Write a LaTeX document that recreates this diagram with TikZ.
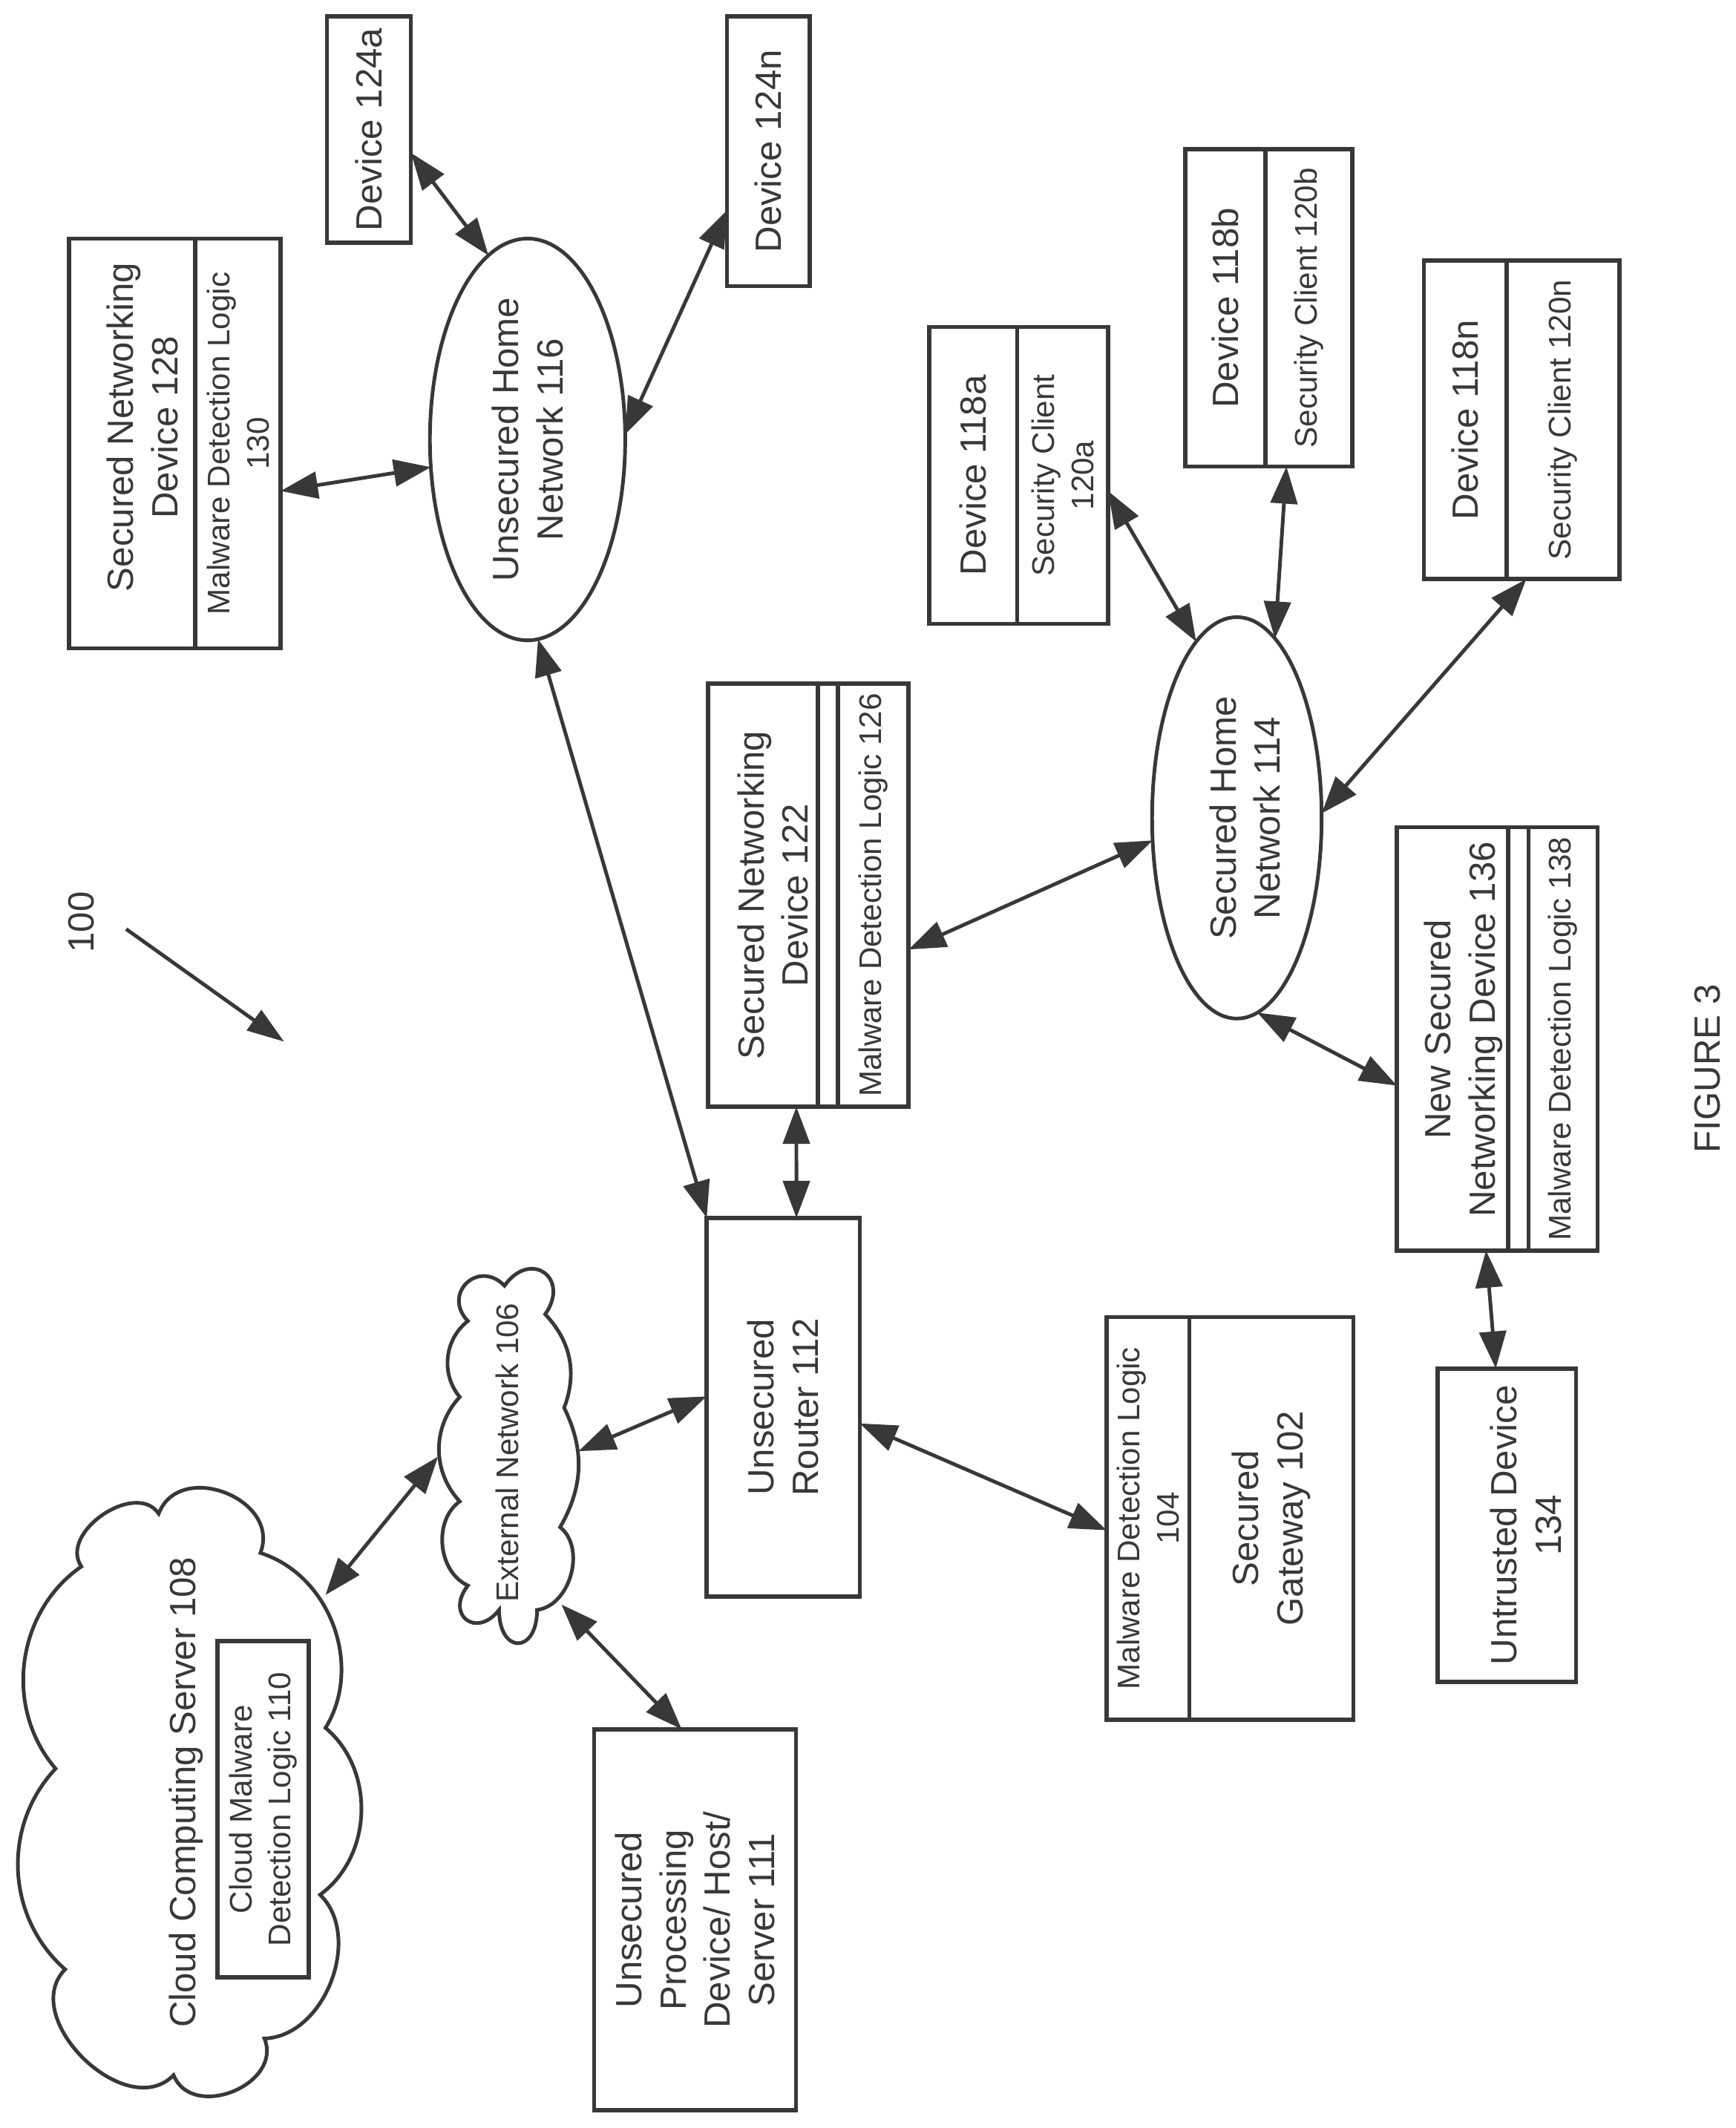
\documentclass[tikz,border=0pt]{standalone}
\usepackage{fontspec}
\setmainfont{Liberation Sans}
\usetikzlibrary{arrows.meta,shapes.geometric}
\definecolor{ink}{gray}{0.22}
\tikzset{
	big/.style={font=\fontsize{14}{17}\selectfont},
	small/.style={font=\fontsize{12}{15}\selectfont},
	sz/.style 2 args={minimum width=#1*0.018273cm,minimum height=#2*0.018273cm},
	box/.style={draw=ink,text=ink,line width=1.6pt,rectangle,rotate=90,align=center,inner sep=0pt,outer sep=0pt,big},
	net/.style={draw=ink,text=ink,line width=1.4pt,ellipse,rotate=90,align=center,inner sep=0pt,outer sep=0pt,big},
	lbl/.style={text=ink,rotate=90,align=center,inner sep=0pt},
	puffline/.style={draw=ink,line width=1.4pt},
	biarrow/.style={{Triangle[length=5mm,width=3.6mm]}-{Triangle[length=5mm,width=3.6mm]},draw=ink,line width=1.4pt},
	puff/.style 2 args={bend left=#1,looseness=#2},
}
\begin{document}
\begin{tikzpicture}[
		x={(0.018273cm,0cm)},
		y={(0cm,-0.018273cm)},
	]
	\useasboundingbox (0,0) rectangle (1280,1569);

	% clouds
	\draw[puffline] (117,1116) to[puff={90}{1.36}] (192,1145) to[puff={52}{1}] (240,1274) to[puff={52}{1}] (236,1397)
		to[puff={67}{1}] (195,1503) to[puff={90}{1.3}] (128,1530) to[puff={90}{1.15}] (48,1452) to[puff={46}{1}] (41,1304)
		to[puff={48}{1}] (60,1155) to[puff={90}{1.12}] cycle;
	\draw[puffline] (372,948) to[puff={90}{2.3}] (402,969) to[puff={32}{1}] (416,1038) to[puff={28}{1}] (413,1126)
		to[puff={67}{1}] (396,1187) to[puff={90}{3}] (368,1187) to[puff={90}{2.4}] (345,1169) to[puff={60}{1}] (339,1107)
		to[puff={43}{1}] (339,1030) to[puff={46}{1}] (345,974) to[puff={90}{1.9}] cycle;
	\coordinate (c108) at (240,1176);
	\coordinate (c106a) at (323,1074);
	\coordinate (c106b) at (426.5,1070);
	\coordinate (c106c) at (414,1183);
	\node[lbl,big] (t108) at (137,1321.5) {Cloud Computing Server 108};
	\node[lbl,small] (t106) at (374,1071) {External Network 106};
	\node[box,small,sz={248}{67}] (l110) at (194,1334) {Cloud Malware\\Detection Logic 110};

	% left side
	\node[box,sz={167}{62}] (d124a) at (272,95.5) {Device 124a};
	\node[box,sz={199}{61}] (d124n) at (566.5,111.5) {Device 124n};
	\node[box,sz={302}{93}] (s128) at (97.5,327) {};
	\node[lbl,big] (t128) at (105,315) {Secured Networking\\Device 128};
	\node[box,small,sz={302}{63}] (m130) at (175.5,327) {Malware Detection Logic\\130};
	\node[net,sz={296}{144}] (u116) at (389,324) {Unsecured Home\\Network 116};

	% secured home network
	\node[net,sz={296}{125}] (e114) at (912,603) {};
	\node[lbl,big] (t114) at (918,603) {Secured Home\\Network 114};
	\node[box,sz={219}{65}] (d118a) at (717.5,350.5) {Device 118a};
	\node[box,small,sz={219}{67}] (c120a) at (783.5,350.5) {Security Client\\120a};
	\node[box,sz={234}{59}] (d118b) at (903.5,227) {Device 118b};
	\node[box,small,sz={234}{64}] (c120b) at (965,227) {Security Client 120b};
	\node[box,sz={235}{61}] (d118n) at (1080.5,309.5) {Device 118n};
	\node[box,small,sz={235}{83}] (c120n) at (1152.5,309.5) {Security Client 120n};

	\node[box,sz={312}{81}] (s122) at (562.5,660) {};
	\node[lbl,big] (t122) at (570,660) {Secured Networking\\Device 122};
	\node[box,sz={312}{15}] (g122) at (610.5,660) {};
	\node[box,small,sz={312}{52}] (m126) at (644,660) {Malware Detection Logic 126};
	\node[box,sz={312}{82}] (n136) at (1071,766) {};
	\node[lbl,big] (t136) at (1079,759) {New Secured\\Networking Device 136};
	\node[box,sz={312}{15}] (g136) at (1119.5,766) {};
	\node[box,small,sz={312}{51}] (m138) at (1152.5,766) {Malware Detection Logic 138};

	\node[box,sz={279}{113}] (r112) at (577.5,1037.5) {Unsecured\\Router 112};
	\node[box,small,sz={297}{61}] (m104) at (846.5,1119.5) {Malware Detection Logic\\104};
	\node[box,sz={297}{121}] (g102) at (937.5,1119.5) {Secured\\Gateway 102};
	\node[box,sz={231}{102}] (u134) at (1111,1124.5) {};
	\node[lbl,big] (t134) at (1125,1124.5) {Untrusted Device\\134};
	\node[box,sz={281}{149}] (p111) at (512.5,1415.5) {Unsecured\\Processing\\Device/ Host/\\Server 111};

	\foreach \a/\b in {d124a.-119/u116.12,d124n.145/u116.-87,m130.-138/u116.106,u116.-177/r112.22,
		s122.-171/r112.-4,m126.-147/e114.105,c120a.-109/e114.13,c120b.172/e114.-12,c120n.167/e114.-87,
		e114.-174/n136.130,n136.-171/u134.4,r112.82/c106b,r112.-102/m104.106,c106a/c108,c106c/p111.4}{
		\draw[biarrow] (\a) -- (\b);
	}

	\node[lbl,big] (l100) at (60,680) {100};
	\coordinate (a100s) at (93,685);
	\coordinate (a100e) at (209.5,768);
	\draw[draw=ink,line width=1.4pt,-{Triangle[length=5mm,width=3.3mm]}] (a100s) -- (a100e);
	\node[lbl,big] (fig3) at (1259,788) {FIGURE 3};
\end{tikzpicture}
\end{document}
